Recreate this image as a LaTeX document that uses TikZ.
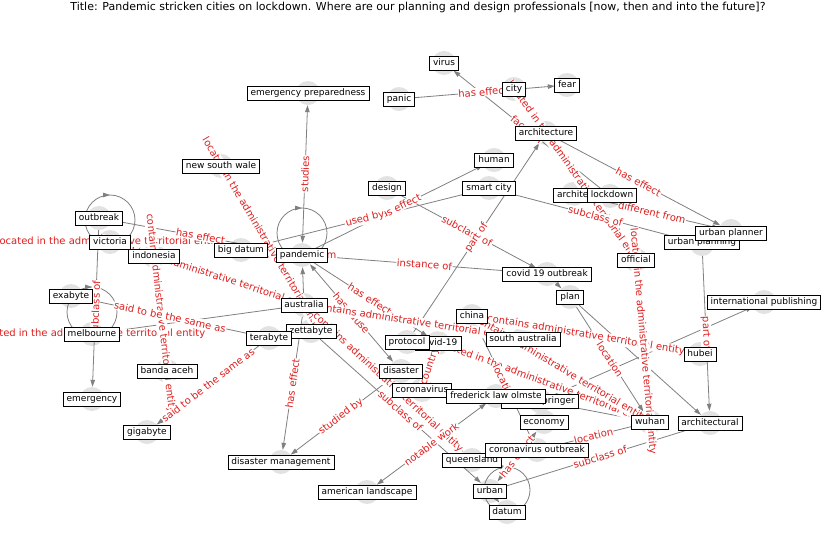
\documentclass[tikz,border=0pt]{standalone}
\usepackage{fontspec}
\setmainfont{DejaVu Sans}
\usetikzlibrary{arrows.meta,decorations.markings}
\definecolor{dotgray}{RGB}{226,226,226}
\definecolor{linkgray}{RGB}{128,128,128}
\definecolor{labred}{RGB}{222,30,30}
\begin{document}
\begin{tikzpicture}[x=1pt,y=-1pt,
  ndot/.style={circle,fill=dotgray,draw=none,minimum size=24,inner sep=0},
  nbox/.style={draw=black,fill=white,line width=0.7pt,font=\fontsize{9}{10}\selectfont,
               inner xsep=3.5,inner ysep=2.5,text height=7,text depth=2},
  link/.style={draw=linkgray,line width=0.8pt,-{Triangle[length=7,width=4.5]}},
  both/.style={draw=linkgray,line width=0.8pt,{Triangle[length=7,width=4.5]}-{Triangle[length=7,width=4.5]}},
  plainlink/.style={draw=linkgray,line width=0.8pt},
  elab/.style={text=labred,fill=white,inner sep=0.6,font=\fontsize{10}{11}\selectfont},
  selfloop/.style={draw=linkgray,line width=0.8pt,postaction={decorate},
    decoration={markings,mark=at position 0.75 with {\arrow{Triangle[length=7,width=4.5]}}}}
]
\useasboundingbox (0,0) rectangle (837,559);
\fill[white] (0,0) rectangle (837,559);

% title
\node[font=\fontsize{11}{13}\selectfont] (title) at (418,7)
  {Title: Pandemic stricken cities on lockdown. Where are our planning and design professionals [now, then and into the future]?};

% node discs
\node[ndot] (virus) at (444,63) {};
\node[ndot] (city) at (514,89) {};
\node[ndot] (fear) at (567,85) {};
\node[ndot] (panic) at (399,99) {};
\node[ndot] (emprep) at (308,93) {};
\node[ndot] (archi) at (546,133) {};
\node[ndot] (human) at (494,160) {};
\node[ndot] (nsw) at (221,166) {};
\node[ndot] (design) at (387,188) {};
\node[ndot] (smart) at (489,188) {};
\node[ndot] (archt) at (573,194) {};
\node[ndot] (lockdown) at (610,196) {};
\node[ndot] (outbreak) at (99,218) {};
\node[ndot] (uplanner) at (731,231) {};
\node[ndot] (uplanning) at (702,244) {};
\node[ndot] (victoria) at (110,242) {};
\node[ndot] (bigdatum) at (241,250) {};
\node[ndot] (pandemic) at (302,255) {};
\node[ndot] (indonesia) at (154,256) {};
\node[ndot] (official) at (636,260) {};
\node[ndot] (covout) at (547,274) {};
\node[ndot] (exabyte) at (71,296) {};
\node[ndot] (plan) at (570,297) {};
\node[ndot] (intpub) at (764,302) {};
\node[ndot] (australia) at (304,305) {};
\node[ndot] (china) at (472,316) {};
\node[ndot] (zetta) at (311,331) {};
\node[ndot] (melbourne) at (92,334) {};
\node[ndot] (terabyte) at (269,338) {};
\node[ndot] (southaus) at (523,339) {};
\node[ndot] (covid) at (438,343) {};
\node[ndot] (protocol) at (407,342) {};
\node[ndot] (hubei) at (700,354) {};
\node[ndot] (banda) at (167,371) {};
\node[ndot] (disaster) at (401,371) {};
\node[ndot] (coronavirus) at (422,390) {};
\node[ndot] (springer) at (540,401) {};
\node[ndot] (olmsted) at (496,396) {};
\node[ndot] (emergency) at (92,399) {};
\node[ndot] (economy) at (544,422) {};
\node[ndot] (wuhan) at (650,422) {};
\node[ndot] (architectural) at (710,423) {};
\node[ndot] (gigabyte) at (147,432) {};
\node[ndot] (coroutbreak) at (537,450) {};
\node[ndot] (queensland) at (472,460) {};
\node[ndot] (dismgmt) at (281,462) {};
\node[ndot] (urban) at (490,491) {};
\node[ndot] (amland) at (367,492) {};
\node[ndot] (datum) at (507,512) {};

% self loops
\draw[selfloop] ([yshift=22pt]victoria.center) circle[radius=25];
\draw[selfloop] ([yshift=22pt]pandemic.center) circle[radius=25];
\draw[selfloop] ([yshift=22pt]melbourne.center) circle[radius=25];
\draw[selfloop] ([yshift=22pt]datum.center) circle[radius=23];

% connectors
\draw[link] (panic) -- (fear);
\draw[link] (lockdown) -- (virus);
\draw[link] (city) -- (official);
\draw[link] (archi) -- (uplanner);
\draw[link] (archt) -- (uplanner);
\draw[link] (protocol) -- (archi);
\draw[link] (design) -- (covout);
\draw[link] (covout) -- (plan);
\draw[link] (pandemic) -- (human);
\draw[link] (bigdatum) -- (smart);
\draw[link] (outbreak) -- (pandemic);
\draw[both] (pandemic) -- (emprep);
\draw[link] (pandemic) -- (covout);
\draw[both] (pandemic) -- (disaster);
\draw[link] (pandemic) -- (covid);
\draw[link] (nsw) -- (australia);
\draw[link] (australia) -- (pandemic);
\draw[link] (victoria) -- (australia);
\draw[link] (australia) -- (southaus);
\draw[link] (china) -- (hubei);
\draw[link] (indonesia) -- (banda);
\draw[link] (exabyte) -- (terabyte);
\draw[link] (terabyte) -- (gigabyte);
\draw[link] (melbourne) -- (australia);
\draw[link] (outbreak) -- (emergency);
\draw[link] (australia) -- (dismgmt);
\draw[link] (australia) -- (queensland);
\draw[link] (zetta) -- (urban);
\draw[both] (olmsted) -- (amland);
\draw[link] (disaster) -- (dismgmt);
\draw[link] (coronavirus) -- (covid);
\draw[link] (coroutbreak) -- (china);
\draw[link] (covid) -- (wuhan);
\draw[link] (china) -- (wuhan);
\draw[link] (official) -- (wuhan);
\draw[link] (coroutbreak) -- (wuhan);
\draw[link] (urban) -- (architectural);
\draw[link] (springer) -- (intpub);
\draw[link] (springer) -- (wuhan);
\draw[link] (uplanning) -- (architectural);
\draw[link] (plan) -- (wuhan);
\draw[link] (plan) -- (architectural);
\draw[both] (economy) -- (urban);
\draw[link] (urban) -- (datum);
\draw[link] (smart) -- (uplanning);

% connector labels
\path (victoria) -- (australia) node[elab,sloped,midway] {located in the administrative territorial entity};
\node[elab] (victorialoop) at (victoria) {located in the administrative territorial entity};
\node[elab] (melbourneloop) at (melbourne) {located in the administrative territorial entity};
\node[elab] (pandemicloop) at (pandemic) {different from};
\path (panic) -- (fear) node[elab,sloped,midway] {has effect};
\path (city) -- (official) node[elab,sloped,midway] {located in the administrative territorial entity};
\path (lockdown) -- (virus) node[elab,sloped,midway] {facet of};
\path (archi) -- (uplanner) node[elab,sloped,midway] {has effect};
\path (archt) -- (uplanner) node[elab,sloped,midway] {different from};
\path (smart) -- (uplanning) node[elab,sloped,midway] {subclass of};
\path (design) -- (covout) node[elab,sloped,midway] {subclass of};
\path (protocol) -- (archi) node[elab,sloped,midway] {part of};
\path (pandemic) -- (human) node[elab,sloped,midway] {has effect};
\path (bigdatum) -- (smart) node[elab,sloped,midway] {used by};
\path (outbreak) -- (pandemic) node[elab,sloped,midway] {has effect};
\path (pandemic) -- (emprep) node[elab,sloped,midway] {studies};
\path (pandemic) -- (covout) node[elab,sloped,midway] {instance of};
\path (nsw) -- (australia) node[elab,sloped,midway] {located in the administrative territorial entity};
\path (indonesia) -- (banda) node[elab,sloped,midway] {contains administrative territorial entity};
\path (exabyte) -- (terabyte) node[elab,sloped,midway] {said to be the same as};
\path (outbreak) -- (emergency) node[elab,sloped,midway] {subclass of};
\path (pandemic) -- (covid) node[elab,sloped,midway] {has effect};
\path (pandemic) -- (disaster) node[elab,sloped,midway] {has cause};
\path (australia) -- (southaus) node[elab,sloped,midway] {contains administrative territorial entity};
\path (australia) -- (queensland) node[elab,sloped,midway] {contains administrative territorial entity};
\path (terabyte) -- (gigabyte) node[elab,sloped,midway] {said to be the same as};
\path (australia) -- (dismgmt) node[elab,sloped,midway] {has effect};
\path (zetta) -- (urban) node[elab,sloped,midway] {subclass of};
\path (disaster) -- (dismgmt) node[elab,sloped,midway] {studied by};
\path (olmsted) -- (amland) node[elab,sloped,midway] {notable work};
\path (coronavirus) -- (covid) node[elab,sloped,midway] {country};
\path (china) -- (hubei) node[elab,sloped,midway] {contains administrative territorial entity};
\path (covid) -- (wuhan) node[elab,sloped,midway] {located in the administrative territorial entity};
\path (china) -- (wuhan) node[elab,sloped,midway] {contains administrative territorial entity};
\path (coroutbreak) -- (china) node[elab,sloped,midway] {location};
\path (plan) -- (wuhan) node[elab,sloped,midway] {location};
\path (official) -- (wuhan) node[elab,sloped,midway] {located in the administrative territorial entity};
\path (uplanning) -- (architectural) node[elab,sloped,midway] {part of};
\path (coroutbreak) -- (wuhan) node[elab,sloped,midway] {location};
\path (urban) -- (architectural) node[elab,sloped,midway] {subclass of};
\path (economy) -- (urban) node[elab,sloped,midway] {has effect};

% node boxes
\node[nbox] (virusl) at (virus) {virus};
\node[nbox] (cityl) at (city) {city};
\node[nbox] (fearl) at (fear) {fear};
\node[nbox] (panicl) at (panic) {panic};
\node[nbox] (emprepl) at (emprep) {emergency preparedness};
\node[nbox] (archil) at (archi) {architecture};
\node[nbox] (humanl) at (human) {human};
\node[nbox] (nswl) at (nsw) {new south wale};
\node[nbox] (designl) at (design) {design};
\node[nbox] (smartl) at (smart) {smart city};
\node[nbox] (archtl) at (577,195) {architect};
\node[nbox] (lockdownl) at (612,195) {lockdown};
\node[nbox] (outbreakl) at (outbreak) {outbreak};
\node[nbox] (uplanningl) at (702,242) {urban planning};
\node[nbox] (uplannerl) at (731,233) {urban planner};
\node[nbox] (victorial) at (victoria) {victoria};
\node[nbox] (bigdatuml) at (bigdatum) {big datum};
\node[nbox] (pandemicl) at (pandemic) {pandemic};
\node[nbox] (indonesial) at (indonesia) {indonesia};
\node[nbox] (officiall) at (official) {official};
\node[nbox] (covoutl) at (covout) {covid 19 outbreak};
\node[nbox] (exabytel) at (exabyte) {exabyte};
\node[nbox] (planl) at (plan) {plan};
\node[nbox] (intpubl) at (intpub) {international publishing};
\node[nbox] (australial) at (australia) {australia};
\node[nbox] (chinal) at (china) {china};
\node[nbox] (zettal) at (zetta) {zettabyte};
\node[nbox] (melbournel) at (melbourne) {melbourne};
\node[nbox] (terabytel) at (terabyte) {terabyte};
\node[nbox] (southausl) at (southaus) {south australia};
\node[nbox] (covidl) at (covid) {covid-19};
\node[nbox] (protocoll) at (protocol) {protocol};
\node[nbox] (hubeil) at (hubei) {hubei};
\node[nbox] (bandal) at (banda) {banda aceh};
\node[nbox] (disasterl) at (disaster) {disaster};
\node[nbox] (coronavirusl) at (coronavirus) {coronavirus};
\node[nbox] (springerl) at (springer) {nature springer};
\node[nbox] (olmstedl) at (olmsted) {frederick law olmste};
\node[nbox] (emergencyl) at (emergency) {emergency};
\node[nbox] (economyl) at (economy) {economy};
\node[nbox] (wuhanl) at (wuhan) {wuhan};
\node[nbox] (architecturall) at (architectural) {architectural};
\node[nbox] (gigabytel) at (gigabyte) {gigabyte};
\node[nbox] (queenslandl) at (queensland) {queensland};
\node[nbox] (coroutbreakl) at (coroutbreak) {coronavirus outbreak};
\node[nbox] (dismgmtl) at (dismgmt) {disaster management};
\node[nbox] (urbanl) at (urban) {urban};
\node[nbox] (amlandl) at (amland) {american landscape};
\node[nbox] (datuml) at (datum) {datum};
\end{tikzpicture}
\end{document}
